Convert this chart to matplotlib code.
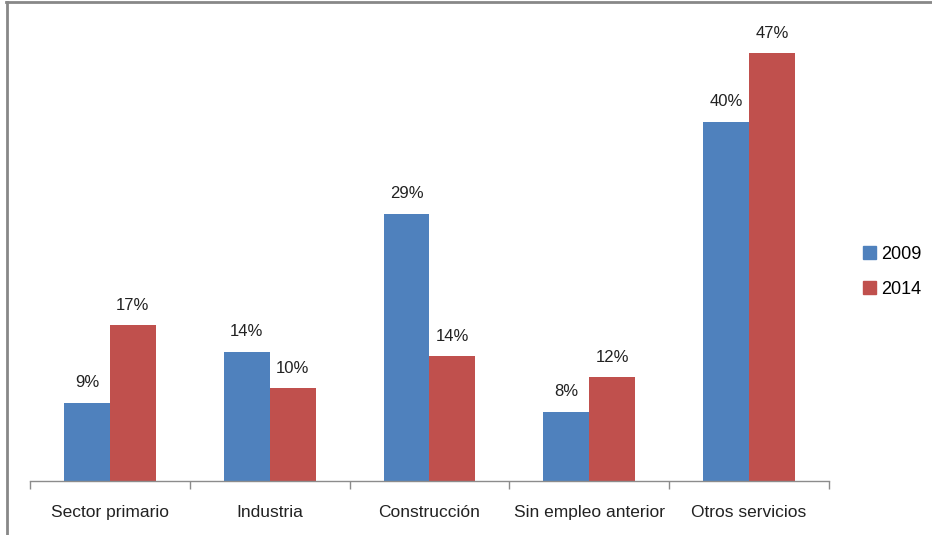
import matplotlib
matplotlib.use("Agg")
import matplotlib.pyplot as plt
from matplotlib.lines import Line2D
from matplotlib.patches import Patch
import numpy as np

categories = ["Sector primario", "Industria", "Construcción", "Sin empleo anterior", "Otros servicios"]
series_names = ["2009", "2014"]
values_2009 = [8.6, 14.2, 29.4, 7.6, 39.5]
values_2014 = [17.1, 10.2, 13.7, 11.4, 47.0]
labels_2009 = ["9%", "14%", "29%", "8%", "40%"]
labels_2014 = ["17%", "10%", "14%", "12%", "47%"]
colors = ["#4F81BD", "#C0504D"]

plt.rcParams['font.family'] = ["Liberation Sans", "DejaVu Sans"]

W, H = 932, 535
fig = plt.figure(figsize=(W / 100, H / 100), dpi=100)
x0, x1, yb, yt = 30, 829, 481, 17
ax = fig.add_axes([x0 / W, 1 - yb / H, (x1 - x0) / W, (yb - yt) / H])

x = np.arange(len(categories))
bw = 0.2875
b1 = ax.bar(x - bw / 2, values_2009, bw, color=colors[0], label=series_names[0])
b2 = ax.bar(x + bw / 2, values_2014, bw, color=colors[1], label=series_names[1])
for bars, labs in ((b1, labels_2009), (b2, labels_2014)):
    for r, lab in zip(bars, labs):
        ax.annotate(lab, (r.get_x() + r.get_width() / 2, r.get_height()),
                    xytext=(0, 9), textcoords="offset points", ha="center", va="bottom",
                    fontsize=12, color="#222222")

ax.set_xlim(-0.5, len(categories) - 0.5)
ax.set_ylim(0, 51)
for s in ("top", "right", "left"):
    ax.spines[s].set_visible(False)
ax.spines["bottom"].set_color("#8c8c8c")
ax.spines["bottom"].set_linewidth(1)
ax.set_yticks([])
ax.set_xticks(np.arange(len(categories) + 1) - 0.5)
ax.set_xticklabels([])
ax.set_xticks(x, minor=True)
ax.set_xticklabels(categories, minor=True, fontsize=12.5, color="#222222")
ax.tick_params(axis="x", which="major", length=6, color="#8c8c8c", width=1)
ax.tick_params(axis="x", which="minor", length=0, pad=17)

handles = [Patch(color=c) for c in colors]
fig.legend(handles, series_names, loc="center left", bbox_to_anchor=(847 / W, 1 - 272 / H),
           frameon=False, fontsize=13, handlelength=0.7, handleheight=0.7, handletextpad=0.3,
           labelspacing=1.0)

fig.add_artist(Line2D([7 / W, 7 / W], [0, 1 - 1.5 / H], transform=fig.transFigure,
                      color="#888888", linewidth=2))
fig.add_artist(Line2D([6 / W, 1], [1 - 2 / H, 1 - 2 / H], transform=fig.transFigure,
                      color="#888888", linewidth=2))

fig.savefig("out.png", dpi=100)
